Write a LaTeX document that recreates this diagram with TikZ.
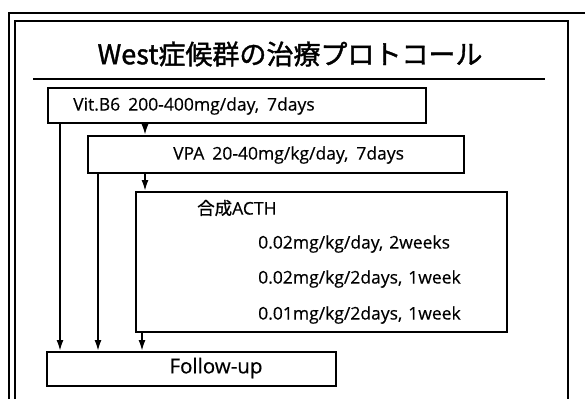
\documentclass[tikz,border=0pt]{standalone}
\usepackage{fontspec}
\setmainfont{Open Sans}[FakeBold=0.4]
\newfontfamily\jp{Noto Sans CJK JP}[FakeBold=0.8]
\newfontfamily\titlefont{Noto Sans CJK JP}[FakeBold=1.4]
\usetikzlibrary{arrows.meta}
\begin{document}
\begin{tikzpicture}[x=1pt,y=-1pt,
  box/.style={draw, line width=2pt, anchor=north west, inner sep=0pt},
  frame/.style={line width=1.8pt},
  txt/.style={anchor=west, inner sep=0pt, font=\fontsize{17.5}{20}\selectfont},
  arr/.style={line width=1.8pt, -{Latex[length=11pt,width=7pt]}}]
\useasboundingbox (0,0) rectangle (585,399);
% frames
\draw[frame] (9,399) -- (9,13) -- (585,13);
\draw[frame] (15,399) -- (15,21) -- (568,21) -- (568,399);
% title
\node[inner sep=0pt, font=\titlefont\fontsize{27}{30}\selectfont] (title) at (290,54) {West症候群の治療プロトコール};
\draw[line width=2pt] (33,79) -- (545,79);
% boxes
\node[box, minimum width=378pt, minimum height=35pt] (b1) at (47,87) {};
\node[box, minimum width=376pt, minimum height=37pt] (b2) at (87,135) {};
\node[box, minimum width=371pt, minimum height=140pt] (b3) at (135,191) {};
\node[box, minimum width=289pt, minimum height=34pt] (fu) at (46,351) {};
% texts
\node[txt] (t1) at (73,106) {Vit.B6\hspace{8pt}200-400mg/day,\hspace{8pt}7days};
\node[txt] (t2) at (173,155) {VPA\hspace{8pt}20-40mg/kg/day,\hspace{8pt}7days};
\node[txt] (t3) at (197,208) {{\jp 合成}ACTH};
\node[txt] (t4) at (258,244) {0.02mg/kg/day,\hspace{6pt}2weeks};
\node[txt] (t5) at (258,279) {0.02mg/kg/2days,\hspace{6pt}1week};
\node[txt] (t6) at (258,315) {0.01mg/kg/2days,\hspace{6pt}1week};
\node[inner sep=0pt, font=\fontsize{20.5}{23}\selectfont] (t7) at (216,368) {Follow-up};
% arrows
\draw[arr] ([xshift=98pt]b1.south west) -- ([xshift=98pt]b1.south west |- b2.north);
\draw[arr] ([xshift=58pt]b2.south west) -- ([xshift=58pt]b2.south west |- b3.north);
\draw[arr] ([xshift=13pt]b1.south west) -- ([xshift=13pt]b1.south west |- fu.north);
\draw[arr] ([xshift=11pt]b2.south west) -- ([xshift=11pt]b2.south west |- fu.north);
\draw[arr] ([xshift=7pt]b3.south west) -- ([xshift=7pt]b3.south west |- fu.north);
\end{tikzpicture}
\end{document}
